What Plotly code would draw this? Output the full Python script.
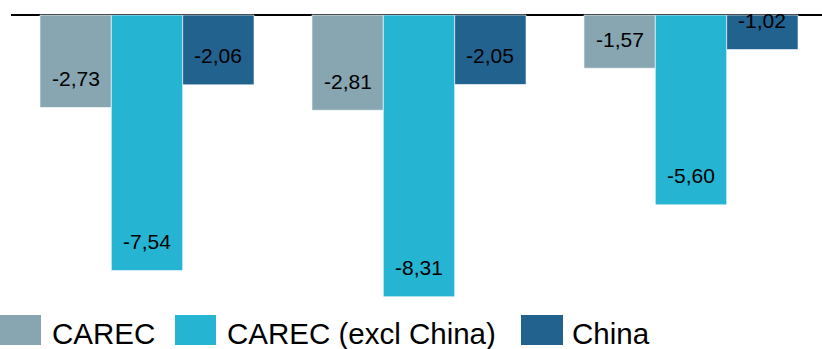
import plotly.graph_objects as go

# Data
groups = [0, 1, 2]
series_names = ["CAREC", "CAREC (excl China)", "China"]
carec = [-2.73, -2.81, -1.57]
carec_excl_china = [-7.54, -8.31, -5.60]
china = [-2.06, -2.05, -1.02]
colors = ["#88A6B2", "#25B5D2", "#22628F"]

W, H = 822, 349
ML, MR, MT, MB = 11, 0, 0, 49
PW = W - ML - MR
PH = H - MT - MB
px_per_cat = 272.0
px_per_unit = 33.9
zero_px = 15

bargap = 0.213
bar_w = (1 - bargap) / 3

fig = go.Figure()
all_series = [carec, carec_excl_china, china]
for name, vals, col in zip(series_names, all_series, colors):
    fig.add_trace(go.Bar(
        x=groups, y=vals, name=name,
        marker=dict(color=col, line=dict(color="rgba(255,255,255,0.6)", width=1)),
        showlegend=False, hoverinfo="skip",
    ))

annotations = []
for j, vals in enumerate(all_series):
    for i, v in zip(groups, vals):
        annotations.append(dict(
            x=i + (j - 1) * bar_w, y=v, xref="x", yref="y",
            text=f"{v:.2f}".replace(".", ","), showarrow=False,
            yshift=29, xanchor="center", yanchor="middle",
            font=dict(family="Liberation Sans, Arial", size=21, color="#000000"),
        ))

# Manual legend (large swatches)
def px_x(p):
    return (p - ML) / PW

def px_y(p):
    return 1 - (p - MT) / PH

legend_items = [(0, 41, 50), (175, 216, 225), (521, 563, 570)]
shapes = []
for (x0, x1, tx), name, col in zip(legend_items, series_names, colors):
    shapes.append(dict(type="rect", xref="paper", yref="paper",
                       x0=px_x(x0), x1=px_x(x1), y0=px_y(345), y1=px_y(315),
                       fillcolor=col, line=dict(width=0)))
    annotations.append(dict(
        x=px_x(tx), y=px_y(333), xref="paper", yref="paper",
        text=name, showarrow=False, xanchor="left", yanchor="middle",
        font=dict(family="Liberation Sans, Arial", size=29.5, color="#000000"),
    ))

fig.update_layout(
    width=W, height=H,
    margin=dict(l=ML, r=MR, t=MT, b=MB, pad=0),
    paper_bgcolor="white", plot_bgcolor="white",
    barmode="group", bargap=bargap, bargroupgap=0,
    xaxis=dict(range=[-0.5, -0.5 + PW / px_per_cat], showticklabels=False,
               showgrid=False, zeroline=False, showline=False, ticks=""),
    yaxis=dict(range=[-(PH - zero_px) / px_per_unit, zero_px / px_per_unit],
               showticklabels=False, showgrid=False, zeroline=True,
               zerolinecolor="#000000", zerolinewidth=1.5, showline=False, ticks=""),
    annotations=annotations, shapes=shapes,
    showlegend=False,
)

fig.write_html("out.html")
